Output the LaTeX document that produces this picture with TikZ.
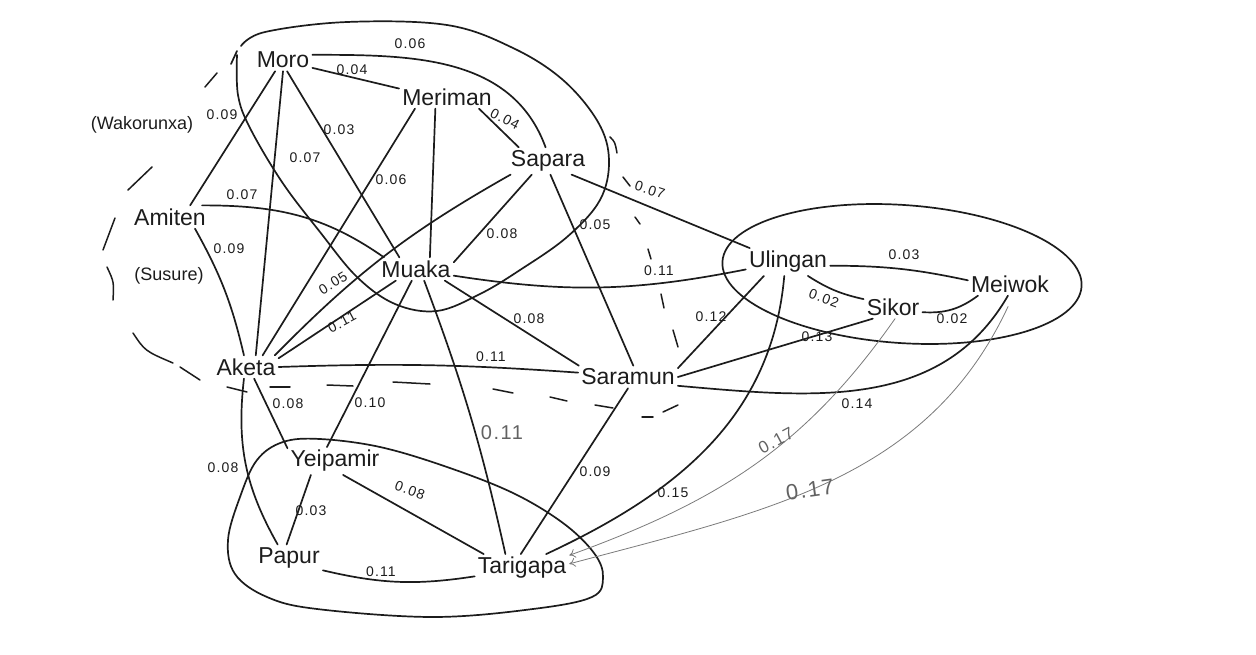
\documentclass[tikz,border=0pt]{standalone}
\usepackage{fontspec}
\setmainfont{Liberation Sans}
\newfontfamily\labfont[LetterSpace=8]{Liberation Sans}
\usetikzlibrary{arrows.meta}
\definecolor{ink}{HTML}{1C1C1C}
\definecolor{pencil}{HTML}{7A7A7A}
\begin{document}
\begin{tikzpicture}[x=1pt,y=-1pt,
  langnode/.style={font=\fontsize{23}{23}\selectfont, text=ink, inner sep=3pt},
  notenode/.style={font=\fontsize{18}{18}\selectfont, text=ink, inner sep=1pt},
  wlabel/.style={font=\labfont\fontsize{14}{14}\selectfont, text=ink, inner sep=1pt},
  wlabelbig/.style={font=\labfont\fontsize{20}{20}\selectfont, text=pencil!80!black, inner sep=1pt},
  linkline/.style={draw=ink, line width=1.7pt, line cap=round},
  faintarrow/.style={draw=pencil, line width=0.8pt, line cap=round, -{To[length=6pt,width=9pt]}},
  groupline/.style={draw=ink, line width=1.7pt, line cap=round, line join=round},
  dashstroke/.style={draw=ink, line width=1.5pt, line cap=round}
]
\path[use as bounding box] (0,0) rectangle (1256,654);

% language groups
\draw[groupline] plot[smooth, tension=0.6] coordinates {
  (241,46) (265,32) (347,22) (447,25) (513,48) (563,80) (598,122) (609,160)
  (600,200) (567,237) (520,270) (480,294) (437,311) (395,304) (357,277)
  (320,232) (282,182) (250,128) (238,95) (237,55)};
\draw[groupline] (231,64) -- (237,51);
\draw[groupline, rotate around={-4:(902,274)}] (902,274) ellipse [x radius=180, y radius=69];
\draw[groupline] plot[smooth cycle, tension=0.6] coordinates {
  (257,460) (283,442) (320,439) (380,447) (447,467) (513,493) (563,523)
  (594,553) (603,577) (592,597) (533,609) (433,617) (317,609) (267,597)
  (235,574) (228,540) (240,497)};

% broken outline of the wider group
\draw[dashstroke] (610,137) .. controls (615,142) .. (617,153);
\draw[dashstroke] (623,177) -- (630,186);
\draw[dashstroke] (635,217) -- (640,224);
\draw[dashstroke] (648,249) -- (651,259);
\draw[dashstroke] (661,294) -- (664,308);
\draw[dashstroke] (673,330) -- (678,347);
\draw[dashstroke] (678,405) -- (663,412);
\draw[dashstroke] (642,417) -- (653,417);
\draw[dashstroke] (595,405) -- (613,408);
\draw[dashstroke] (550,397) -- (567,401);
\draw[dashstroke] (493,389) -- (513,393);
\draw[dashstroke] (393,382) -- (430,384);
\draw[dashstroke] (327,385) -- (353,386);
\draw[dashstroke] (270,387) -- (290,387);
\draw[dashstroke] (227,387) -- (247,392);
\draw[dashstroke] (180,367) -- (200,380);
\draw[dashstroke] (133,333) .. controls (145,351) .. (173,363);
\draw[dashstroke] (107,267) .. controls (114,282) .. (113,300);
\draw[dashstroke] (103,250) -- (115,218);
\draw[dashstroke] (128,190) -- (152,167);
\draw[dashstroke] (205,87) -- (217,73);

% languages
\node[langnode] (moro) at (283,60) {Moro};
\node[langnode] (meriman) at (447,97) {Meriman};
\node[langnode] (sapara) at (548,161) {Sapara};
\node[langnode] (amiten) at (170,217) {Amiten};
\node[langnode] (muaka) at (416,269) {Muaka};
\node[langnode] (aketa) at (246,367) {Aketa};
\node[langnode] (saramun) at (628,377) {Saramun};
\node[langnode] (ulingan) at (788,262) {Ulingan};
\node[langnode] (meiwok) at (1010,284) {Meiwok};
\node[langnode] (sikor) at (893,307) {Sikor};
\node[langnode] (yeipamir) at (335,461) {Yeipamir};
\node[langnode] (papur) at (289,558) {Papur};
\node[langnode] (tarigapa) at (522,568) {Tarigapa};
\node[notenode] (wakorunxa) at (142,125) {(Wakorunxa)};
\node[notenode] (susure) at (169,276) {(Susure)};

% links
\draw[linkline] (moro.-15) -- (meriman.170);
\draw[linkline] (moro.10) to[out=0,in=110] (sapara.100);
\draw[linkline] (meriman.-20) -- (sapara.155);
\draw[linkline] (moro.-125) -- (amiten.30);
\draw[linkline] (moro.south) -- (aketa.50);
\draw[linkline] (moro.-70) -- (muaka.145);
\draw[linkline] (meriman.-160) -- (aketa.35);
\draw[linkline] (meriman.-135) -- (muaka.40);
\draw[linkline] (sapara.-160) to[bend right=8] (aketa.22);
\draw[linkline] (sapara.-140) -- (muaka.10);
\draw[linkline] (sapara.-80) -- (saramun.65);
\draw[linkline] (sapara.-30) -- (ulingan.160);
\draw[linkline] (amiten.20) to[out=0,in=145] (muaka.160);
\draw[linkline] (amiten.-25) to[bend left=8] (aketa.100);
\draw[linkline] (muaka.-150) -- (aketa.15);
\draw[linkline] (muaka.-10) to[bend right=10] (ulingan.-170);
\draw[linkline] (muaka.-22) -- (saramun.167);
\draw[linkline] (muaka.-110) -- (yeipamir.120);
\draw[linkline] (muaka.-55) to[bend left=4] (tarigapa.140);
\draw[linkline] (aketa.east) to[bend left=3] (saramun.175);
\draw[linkline] (aketa.-55) -- (yeipamir.165);
\draw[linkline] (aketa.-100) to[bend right=18] (papur.130);
\draw[linkline] (yeipamir.-150) -- (papur.100);
\draw[linkline] (yeipamir.-60) -- (tarigapa.160);
\draw[linkline] (papur.-20) to[bend right=11] (tarigapa.-170);
\draw[linkline] (saramun.south) -- (tarigapa.95);
\draw[linkline] (saramun.10) -- (ulingan.-150);
\draw[linkline] (saramun.east) -- (sikor.-150);
\draw[linkline] (saramun.-10) to[out=-5,in=-120] (meiwok.-100);
\draw[linkline] (ulingan.-105) to[out=-95,in=25] (tarigapa.30);
\draw[linkline] (ulingan.-5) to[bend left=6] (meiwok.175);
\draw[linkline] (ulingan.-35) to[bend right=10] (sikor.165);
\draw[linkline] (sikor.-10) to[bend right=20] (meiwok.-160);
\draw[faintarrow] (sikor.-80) to[out=-125,in=20] (tarigapa.15);
\draw[faintarrow, shorten <=12pt] (meiwok.-75) to[out=-115,in=15] (tarigapa.5);

% distances
\node[wlabel] (d-mo-me) at (352,70) {0.04};
\node[wlabel] (d-mo-sa) at (410,44) {0.06};
\node[wlabel, rotate=-28] (d-me-sa) at (505,119) {0.04};
\node[wlabel] (d-mo-am) at (222,115) {0.09};
\node[wlabel] (d-mo-ak) at (305,158) {0.07};
\node[wlabel] (d-mo-mu) at (339,130) {0.03};
\node[wlabel] (d-me-ak) at (391,180) {0.06};
\node[wlabel, rotate=32] (d-sa-ak) at (333,283) {0.05};
\node[wlabel] (d-sa-mu) at (502,234) {0.08};
\node[wlabel] (d-sa-sr) at (595,225) {0.05};
\node[wlabel, rotate=-18] (d-sa-ul) at (650,190) {0.07};
\node[wlabel] (d-am-mu) at (242,195) {0.07};
\node[wlabel] (d-am-ak) at (229,249) {0.09};
\node[wlabel, rotate=28] (d-mu-ak) at (342,322) {0.11};
\node[wlabel] (d-mu-ul) at (659,271) {0.11};
\node[wlabel] (d-mu-sr) at (529,319) {0.08};
\node[wlabel] (d-mu-ye) at (370,403) {0.10};
\node[wlabelbig] (d-mu-ta) at (502,433) {0.11};
\node[wlabel] (d-ak-sr) at (491,357) {0.11};
\node[wlabel] (d-ak-ye) at (288,404) {0.08};
\node[wlabel] (d-ak-pa) at (223,468) {0.08};
\node[wlabel] (d-ye-pa) at (311,511) {0.03};
\node[wlabel, rotate=-20] (d-ye-ta) at (410,490) {0.08};
\node[wlabel] (d-pa-ta) at (381,572) {0.11};
\node[wlabel] (d-sr-ta) at (595,472) {0.09};
\node[wlabel] (d-sr-ul) at (711,317) {0.12};
\node[wlabel] (d-sr-si) at (817,337) {0.13};
\node[wlabel] (d-sr-mw) at (857,404) {0.14};
\node[wlabel] (d-ul-ta) at (673,493) {0.15};
\node[wlabel] (d-ul-mw) at (904,255) {0.03};
\node[wlabel, rotate=-20] (d-ul-si) at (824,298) {0.02};
\node[wlabel] (d-si-mw) at (952,319) {0.02};
\node[wlabelbig, font=\labfont\fontsize{17}{17}\selectfont, rotate=28] (d-si-ta) at (776,441) {0.17};
\node[wlabelbig, font=\labfont\fontsize{22}{22}\selectfont, rotate=8] (d-mw-ta) at (810,490) {0.17};
\end{tikzpicture}
\end{document}
